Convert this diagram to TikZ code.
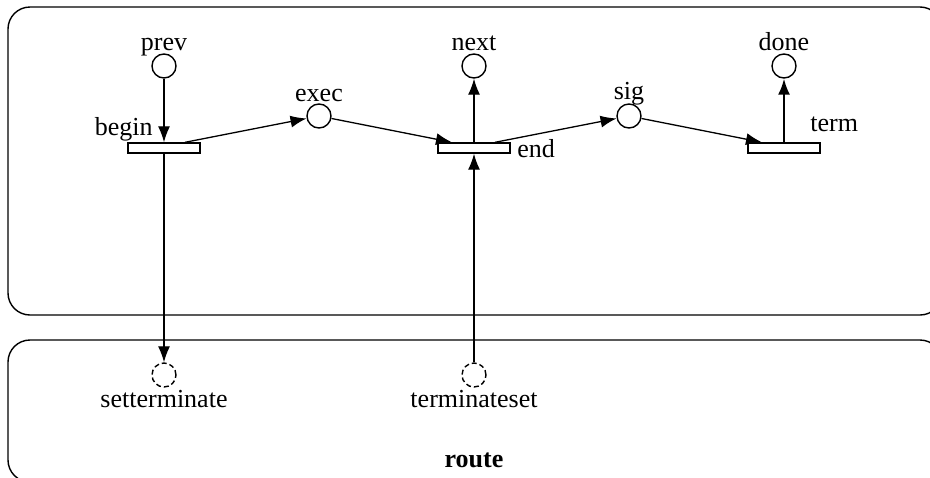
\documentclass[tikz,border=0pt]{standalone}
\usepackage{fontspec}
\setmainfont{Liberation Serif}
\usetikzlibrary{arrows.meta}

\begin{document}
\begin{tikzpicture}[x=0.5pt, y=-0.5pt,
	place/.style={draw, circle, line width=0.7pt, minimum size=12pt, inner sep=0pt},
	iface/.style={place, dash pattern=on 2.5pt off 1.5pt},
	trans/.style={draw, rectangle, line width=0.7pt, minimum width=36pt, minimum height=5pt, inner sep=0pt},
	arc/.style={line width=0.65pt, -{Latex[length=8pt,width=6pt]}},
	lbl/.style={font=\fontsize{13}{15}\selectfont, inner sep=0pt}]
	\useasboundingbox (0,0) rectangle (930,477);
	\clip (0,0) rectangle (930,477);

	% module frames
	\draw[line width=0.7pt, rounded corners=11pt] (8,7) rectangle (942,315);
	\draw[line width=0.7pt, rounded corners=11pt] (8,340) rectangle (942,482);

	% places
	\node[place] (pprev) at (164,66) {};
	\node[place] (pexec) at (319,116) {};
	\node[place] (pnext) at (474,66) {};
	\node[place] (psig) at (629,116) {};
	\node[place] (pdone) at (784,66) {};
	\node[iface] (psetterm) at (164,375) {};
	\node[iface] (ptermset) at (474,375) {};

	% transitions
	\node[trans] (tbegin) at (164,148) {};
	\node[trans] (tend) at (474,148) {};
	\node[trans] (tterm) at (784,148) {};

	% labels
	\node[lbl, anchor=base] (lprev) at (164,50) {prev};
	\node[lbl, anchor=base] (lexec) at (319,101) {exec};
	\node[lbl, anchor=base] (lnext) at (474,50) {next};
	\node[lbl, anchor=base] (lsig) at (629,99) {sig};
	\node[lbl, anchor=base] (ldone) at (784,50) {done};
	\node[lbl, anchor=base east] (lbegin) at (153,135) {begin};
	\node[lbl, anchor=base west] (lend) at (517,157) {end};
	\node[lbl, anchor=base west] (lterm) at (810,131) {term};
	\node[lbl, anchor=base] (lsetterm) at (164,407) {setterminate};
	\node[lbl, anchor=base] (ltermset) at (474,407) {terminateset};
	\node[lbl, anchor=base, font=\fontsize{13}{15}\selectfont\bfseries] (lroute) at (474,467) {route};

	% arcs
	\draw[arc] (pprev) -- (tbegin.north);
	\draw[arc] ([xshift=10.5pt]tbegin.north) -- (pexec);
	\draw[arc] (pexec) -- ([xshift=-11pt]tend.north);
	\draw[arc] (tend.north) -- (pnext);
	\draw[arc] ([xshift=10.5pt]tend.north) -- (psig);
	\draw[arc] (psig) -- ([xshift=-11pt]tterm.north);
	\draw[arc, line width=1pt] (tterm.north) -- (pdone);
	\draw[arc] (tbegin.south) -- (psetterm);
	\draw[arc] (ptermset) -- (tend.south);

\end{tikzpicture}
\end{document}
